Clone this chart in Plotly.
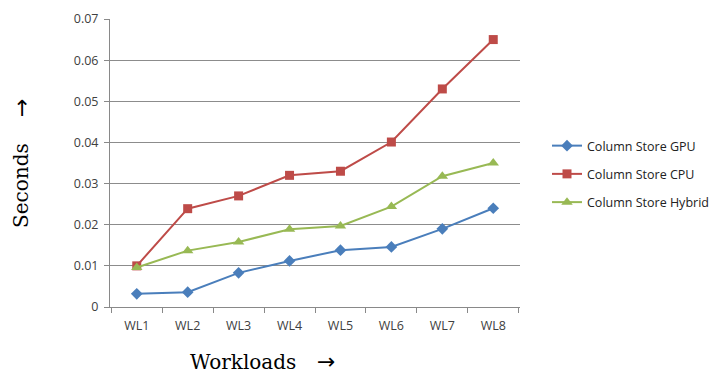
import plotly.graph_objects as go

categories = ["WL1", "WL2", "WL3", "WL4", "WL5", "WL6", "WL7", "WL8"]
gpu = [0.0032, 0.0036, 0.0083, 0.0112, 0.0138, 0.0146, 0.0190, 0.0240]
cpu = [0.0100, 0.0239, 0.0270, 0.0320, 0.0330, 0.0401, 0.0530, 0.0650]
hybrid = [0.0096, 0.0137, 0.0158, 0.0189, 0.0197, 0.0244, 0.0318, 0.0350]
y_ticks = [0, 0.01, 0.02, 0.03, 0.04, 0.05, 0.06, 0.07]
y_tick_text = ["0", "0.01", "0.02", "0.03", "0.04", "0.05", "0.06", "0.07"]

L, R, T, B = 110, 190, 19, 68
W, H = 710, 375
pw, ph = W - L - R, H - T - B


def px(x):
    return (x - L) / pw


def py(y):
    return (H - B - y) / ph


fig = go.Figure()
series = [
    ("Column Store GPU", gpu, "#4a7ebb", "diamond", 9),
    ("Column Store CPU", cpu, "#be4b48", "square", 9),
    ("Column Store Hybrid", hybrid, "#98b954", "triangle-up", 10),
]
for i, (name, vals, color, sym, size) in enumerate(series):
    fig.add_trace(go.Scatter(
        x=categories, y=vals, name=name, mode="lines+markers",
        line=dict(color=color, width=2),
        marker=dict(symbol=sym, size=size, color=color),
        legendgroup=f"g{i}",
    ))

serif = dict(family="DejaVu Serif", size=20, color="#000000")
arrowf = dict(family="DejaVu Sans", size=22, color="#000000")

fig.update_layout(
    width=W, height=H,
    margin=dict(l=L, r=R, t=T, b=B, autoexpand=False),
    paper_bgcolor="white", plot_bgcolor="white",
    font=dict(family="Open Sans", size=12, color="#404040"),
    showlegend=True,
    legend=dict(x=px(547), y=py(174), xanchor="left", yanchor="middle",
                font=dict(size=12.5, color="#222222"), tracegroupgap=9,
                itemwidth=30),
    xaxis=dict(
        type="category", showgrid=False, showline=True, linecolor="#898989",
        ticks="outside", tickson="boundaries", ticklen=5, tickcolor="#898989",
        tickfont=dict(size=12.5, color="#404040"), ticklabelstandoff=7,
    ),
    yaxis=dict(
        range=[0, 0.07], tickvals=y_ticks, ticktext=y_tick_text,
        showgrid=True, gridcolor="#8c8c8c", gridwidth=1,
        showline=True, linecolor="#898989", ticks="outside", ticklen=5,
        tickcolor="#898989", zeroline=False,
        tickfont=dict(size=12.5, color="#404040"), ticklabelstandoff=3,
    ),
    annotations=[
        dict(text="Workloads", xref="paper", yref="paper",
             x=px(188), y=py(362), xanchor="left", yanchor="middle",
             showarrow=False, font=serif),
        dict(text="→", xref="paper", yref="paper",
             x=px(326), y=py(361), xanchor="center", yanchor="middle",
             showarrow=False, font=arrowf),
        dict(text="Seconds", xref="paper", yref="paper",
             x=px(21), y=py(186), xanchor="center", yanchor="middle",
             showarrow=False, textangle=-90, font=serif),
        dict(text="→", xref="paper", yref="paper",
             x=px(21), y=py(108), xanchor="center", yanchor="middle",
             showarrow=False, textangle=-90, font=arrowf),
    ],
)
fig.write_html("out.html")
